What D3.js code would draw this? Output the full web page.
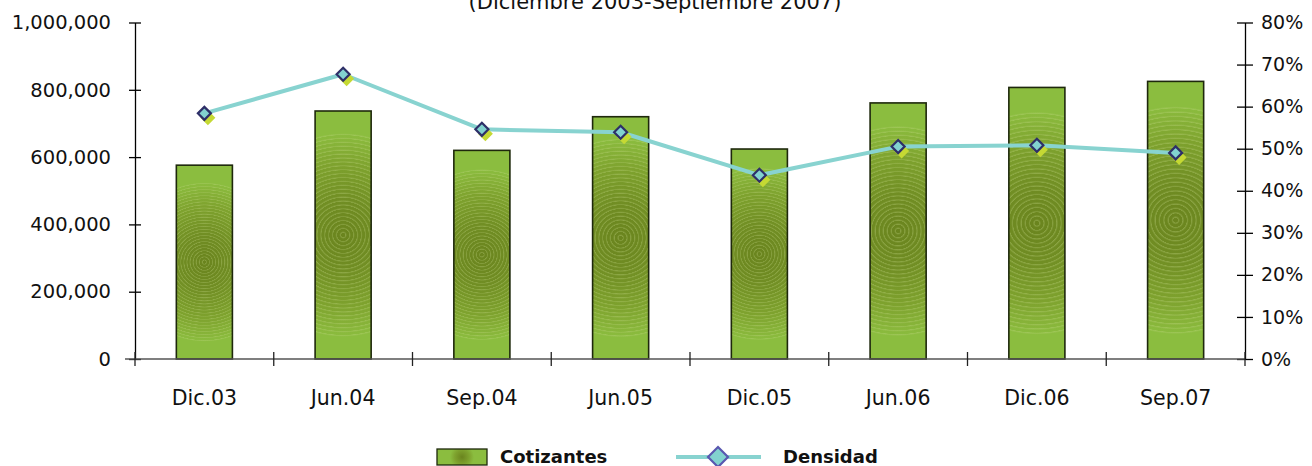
<!DOCTYPE html>
<html><head><meta charset="utf-8">
<script src="https://cdn.jsdelivr.net/npm/d3@7/dist/d3.min.js"></script>
<style>
html,body{margin:0;padding:0;background:#fff;}
svg{display:block;font-family:"DejaVu Sans",sans-serif;}
</style></head>
<body>
<svg id="chart" width="1312" height="466"></svg>
<script>
const categories = ["Dic.03","Jun.04","Sep.04","Jun.05","Dic.05","Jun.06","Dic.06","Sep.07"];
const cotizantes = [576000, 737000, 620000, 720000, 624000, 761000, 807000, 825000];
const densidad = [0.584, 0.677, 0.546, 0.539, 0.437, 0.505, 0.508, 0.490];
const leftTicks = [0, 200000, 400000, 600000, 800000, 1000000];
const rightTicks = [0, 0.1, 0.2, 0.3, 0.4, 0.5, 0.6, 0.7, 0.8];
const titleText = "(Diciembre 2003-Septiembre 2007)";
const seriesNames = ["Cotizantes", "Densidad"];

const svg = d3.select("#chart");
const L = 135, R = 1245, T = 22.5, B = 359;

const x = d3.scaleBand().domain(categories).range([L, R]).paddingInner(0.596).paddingOuter(0.298);
const yL = d3.scaleLinear().domain([0, 1000000]).range([B, T]);
const yR = d3.scaleLinear().domain([0, 0.8]).range([B, T]);

const defs = svg.append("defs");
cotizantes.forEach((v, i) => {
  const x0 = x(categories[i]), w = x.bandwidth();
  const top = yL(v), h = B - top;
  const cx = x0 + w / 2, cy = top + h / 2, r = 0.41 * h;
  const g = defs.append("radialGradient").attr("id", "bg" + i)
    .attr("gradientUnits", "userSpaceOnUse").attr("cx", cx).attr("cy", cy).attr("r", r);
  [[0, "#6a841e"], [0.35, "#718e24"], [0.7, "#7ea22e"], [0.92, "#88b53a"], [1, "#8bbd3f"]]
    .forEach(s => g.append("stop").attr("offset", s[0]).attr("stop-color", s[1]));
  const rg = defs.append("radialGradient").attr("id", "rg" + i)
    .attr("gradientUnits", "userSpaceOnUse").attr("cx", cx).attr("cy", cy).attr("r", r);
  const n = 26;
  for (let k = 0; k < n; k++) {
    const a = k / n, b = (k + 0.5) / n, c = (k + 0.6) / n, d = (k + 1) / n;
    rg.append("stop").attr("offset", a).attr("stop-color", "#c8dc8c").attr("stop-opacity", 0);
    rg.append("stop").attr("offset", b).attr("stop-color", "#c8dc8c").attr("stop-opacity", 0);
    rg.append("stop").attr("offset", c).attr("stop-color", "#c8dc8c").attr("stop-opacity", 0.32);
    rg.append("stop").attr("offset", d - 0.0001).attr("stop-color", "#c8dc8c").attr("stop-opacity", 0);
  }
  rg.append("stop").attr("offset", 1).attr("stop-color", "#c8dc8c").attr("stop-opacity", 0);
});
{
  const lg = defs.append("radialGradient").attr("id", "lg")
    .attr("gradientUnits", "userSpaceOnUse").attr("cx", 462).attr("cy", 457).attr("r", 12);
  [[0, "#6a841e"], [0.6, "#7ea22e"], [1, "#8bbd3f"]]
    .forEach(s => lg.append("stop").attr("offset", s[0]).attr("stop-color", s[1]));
}

// Title (partially cut at the top, as in the reference)
svg.append("text").attr("x", 655).attr("y", 9).attr("text-anchor", "middle")
  .attr("font-size", 21).attr("fill", "#111").text(titleText);

// Bars
const bars = svg.append("g");
categories.forEach((c, i) => {
  const x0 = x(c), w = x.bandwidth(), top = yL(cotizantes[i]), h = B - top;
  bars.append("rect").attr("x", x0).attr("y", top).attr("width", w).attr("height", h)
    .attr("fill", "url(#bg" + i + ")");
  bars.append("rect").attr("x", x0).attr("y", top).attr("width", w).attr("height", h)
    .attr("fill", "url(#rg" + i + ")");
  bars.append("rect").attr("x", x0).attr("y", top).attr("width", w).attr("height", h)
    .attr("fill", "none").attr("stroke", "#1e280c").attr("stroke-width", 1.6);
});

// Axes
const axL = svg.append("g").attr("transform", `translate(${L},0)`)
  .call(d3.axisLeft(yL).tickValues(leftTicks).tickSizeInner(6).tickSizeOuter(0).tickPadding(18)
    .tickFormat(d3.format(",")));
axL.select(".domain").attr("stroke", "#000").attr("stroke-width", 1.3);
axL.selectAll(".tick line").attr("x1", -6).attr("x2", 6).attr("stroke", "#000").attr("stroke-width", 1.3);
axL.selectAll(".tick text").attr("font-size", 19.5).attr("fill", "#111").attr("font-family", "DejaVu Sans");

const axR = svg.append("g").attr("transform", `translate(${R},0)`)
  .call(d3.axisRight(yR).tickValues(rightTicks).tickSizeInner(8).tickSizeOuter(0).tickPadding(8)
    .tickFormat(d3.format(".0%")));
axR.select(".domain").attr("stroke", "#000").attr("stroke-width", 1.3);
axR.selectAll(".tick line").attr("x1", -8).attr("x2", 8).attr("stroke", "#000").attr("stroke-width", 1.3);
axR.selectAll(".tick text").attr("font-size", 19).attr("fill", "#111").attr("font-family", "DejaVu Sans");

svg.append("line").attr("x1", L - 10).attr("x2", R).attr("y1", B).attr("y2", B)
  .attr("stroke", "#555").attr("stroke-width", 1.3);
const step = x.step();
d3.range(categories.length + 1).forEach(k => {
  const xx = x(categories[0]) - x.paddingOuter() * step + k * step;
  svg.append("line").attr("x1", xx).attr("x2", xx).attr("y1", B - 7).attr("y2", B + 7)
    .attr("stroke", "#222").attr("stroke-width", 1.3);
});
svg.append("g").selectAll("text").data(categories).join("text")
  .attr("x", d => x(d) + x.bandwidth() / 2).attr("y", 405)
  .attr("text-anchor", "middle").attr("font-size", 20.5).attr("fill", "#111").text(d => d);

// Line
const lineGen = d3.line().x((d, i) => x(categories[i]) + x.bandwidth() / 2).y(d => yR(d));
svg.append("path").datum(densidad).attr("d", lineGen)
  .attr("fill", "none").attr("stroke", "#88d3d0").attr("stroke-width", 4).attr("stroke-linejoin", "round");

const diamond = (s) => `M0,${-s}L${s},0L0,${s}L${-s},0Z`;
const mk = svg.append("g");
densidad.forEach((d, i) => {
  const cx = x(categories[i]) + x.bandwidth() / 2, cy = yR(d);
  mk.append("path").attr("d", diamond(7.5)).attr("transform", `translate(${cx + 3.5},${cy + 4.5})`)
    .attr("fill", "#c5d933");
  mk.append("path").attr("d", diamond(6.5)).attr("transform", `translate(${cx},${cy})`)
    .attr("fill", "#82d2cf").attr("stroke", "#2e2f68").attr("stroke-width", 2.2);
});

// Legend
svg.append("rect").attr("x", 437).attr("y", 449).attr("width", 50).attr("height", 16)
  .attr("fill", "url(#lg)").attr("stroke", "#1e280c").attr("stroke-width", 1.3);
svg.append("text").attr("x", 500).attr("y", 463).attr("font-size", 18).attr("font-weight", "bold")
  .attr("fill", "#111").text(seriesNames[0]);
svg.append("line").attr("x1", 676).attr("x2", 761).attr("y1", 457).attr("y2", 457)
  .attr("stroke", "#88d3d0").attr("stroke-width", 4);
svg.append("path").attr("d", diamond(10)).attr("transform", "translate(718,457)")
  .attr("fill", "#82d2cf").attr("stroke", "#5a58b0").attr("stroke-width", 2.2);
svg.append("text").attr("x", 783).attr("y", 463).attr("font-size", 18).attr("font-weight", "bold")
  .attr("fill", "#111").text(seriesNames[1]);
</script>
</body></html>
